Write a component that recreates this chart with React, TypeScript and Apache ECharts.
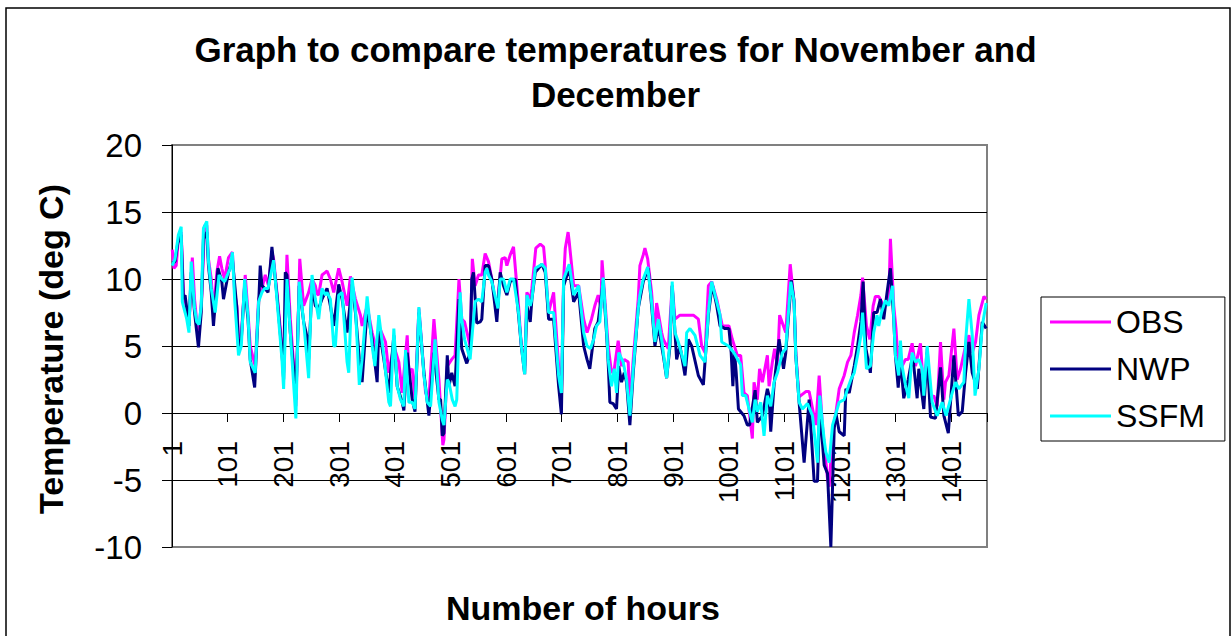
import React, { useEffect, useRef } from "react";
import * as echarts from "echarts";

const TITLE = "Graph to compare temperatures for November and\nDecember";
const X_TITLE = "Number of hours";
const Y_TITLE = "Temperature (deg C)";
const SERIES_NAMES = ["OBS", "NWP", "SSFM"];
const SERIES_COLORS = ["#FF00FF", "#000080", "#00FFFF"];

const HOURS_TOTAL = 1464;
const hourCategories = Array.from({ length: HOURS_TOTAL }, (_, i) => String(i + 1));
const Y_MIN = -10;
const Y_MAX = 20;
const Y_STEP = 5;

// [hour, temperature]
const obsPoints: number[][] = [
  [1, 12.2], [4, 10.8], [8, 11.0], [12, 13.0], [17, 13.5], [21, 9.0], [24, 8.0], [31, 6.5], [37, 11.6], [41, 8.5], [45, 6.8], [49, 6.0], [54, 8.8], [59, 14.0], [63, 14.0], [66, 11.5], [71, 10.0], [75, 7.5], [81, 10.5], [86, 11.7], [90, 10.8], [95, 10.0], [102, 11.6], [109, 12.0], [113, 9.0], [117, 8.0], [120, 5.5], [125, 5.8], [132, 10.3], [137, 7.5], [141, 5.0], [150, 3.5], [156, 8.5], [162, 9.3], [168, 10.3], [174, 9.5], [180, 12.0], [183, 11.5], [189, 9.0], [198, 5.0], [201, 3.0], [207, 11.8], [213, 7.0], [221, 2.5], [223, 0.5], [230, 11.5], [237, 8.0],
  [246, 9.0], [252, 10.0], [258, 9.5], [261, 8.9], [264, 8.8], [270, 10.3], [276, 10.5], [279, 10.6], [285, 10.0], [291, 9.0], [300, 10.8], [306, 9.8], [315, 8.0], [321, 10.2], [330, 8.5], [339, 7.3], [342, 6.5], [351, 8.0], [360, 6.0], [369, 4.5], [372, 6.5], [384, 5.3], [390, 3.0], [399, 5.0], [408, 3.8], [414, 1.5], [423, 5.8], [426, 3.0], [432, 3.3], [437, 1.0], [444, 7.8], [456, 1.5], [462, 1.0], [471, 7.0], [480, 2.5], [487, -2.4], [489, -2.0], [495, 3.5],
  [503, 4.0], [509, 4.3], [516, 10.0], [521, 7.0], [526, 6.8], [536, 5.0], [540, 11.5], [545, 9.5], [551, 10.3], [557, 10.3], [563, 11.9], [569, 11.3], [575, 10.0], [584, 7.5], [593, 11.5], [599, 11.6], [602, 11.0], [608, 11.8], [614, 12.4], [623, 8.0], [628, 5.0], [634, 3.5], [638, 9.0], [644, 8.5], [647, 9.3], [654, 12.3], [662, 12.6], [668, 12.4], [671, 11.0], [677, 7.5], [686, 9.0], [695, 3.5], [700, 1.5], [704, 10.0], [707, 12.3], [712, 13.5], [714, 12.8], [722, 9.5], [731, 9.5], [740, 7.0], [746, 6.0],
  [754, 7.0], [760, 8.0], [766, 8.8], [771, 7.8], [773, 11.4], [778, 8.5], [784, 5.0], [790, 3.0], [795, 3.3], [802, 5.4], [808, 3.5], [813, 4.0], [820, 3.8], [823, 0.5], [829, 4.0], [838, 8.5], [841, 11.0], [847, 11.8], [850, 12.3], [855, 11.5], [862, 9.0], [868, 5.5], [871, 8.2], [880, 6.0], [883, 5.5], [892, 4.8], [899, 9.5], [904, 7.0], [913, 7.3], [919, 7.3], [928, 7.3], [937, 7.3], [946, 7.0], [952, 5.0], [958, 4.5], [964, 9.5], [970, 9.8], [979, 8.5], [989, 6.5],
  [1001, 6.5], [1007, 5.5], [1016, 4.3], [1022, 4.3], [1028, 1.5], [1034, 1.3], [1043, -1.9], [1046, 2.3], [1052, 1.0], [1056, 3.3], [1061, 2.3], [1070, 4.3], [1073, 2.0], [1079, 3.8], [1083, 4.8], [1088, 3.5], [1092, 7.3], [1103, 6.0], [1111, 11.1], [1118, 8.3], [1121, 4.5], [1127, 1.2], [1139, 1.6], [1145, 1.6], [1157, -0.9], [1163, 2.8], [1169, -1.0], [1178, -4.9], [1181, -5.5], [1187, -1.5], [1193, 0.0], [1199, 1.8], [1208, 2.8], [1214, 3.8], [1220, 4.3], [1226, 6.0], [1232, 7.3], [1238, 8.8], [1241, 10.1], [1248, 6.5],
  [1254, 5.5], [1260, 8.0], [1264, 8.7], [1270, 8.7], [1279, 8.0], [1288, 8.3], [1291, 13.0], [1297, 8.0], [1301, 6.3], [1306, 3.0], [1312, 3.5], [1318, 4.0], [1323, 4.0], [1330, 5.2], [1336, 3.5], [1345, 5.2], [1351, 1.5], [1357, 4.8], [1363, 1.0], [1369, 1.3], [1375, 0.5], [1381, 5.3], [1387, 1.0], [1390, 2.3], [1396, 2.8], [1405, 6.3], [1411, 2.5], [1417, 3.3], [1426, 5.0], [1432, 5.8], [1438, 4.5], [1444, 5.3], [1450, 7.3], [1459, 8.7], [1463, 8.5],
];

const nwpPoints: number[][] = [
  [1, 11.2], [6, 11.3], [11, 12.7], [17, 13.3], [21, 8.5], [24, 8.8], [31, 6.5], [35, 10.5], [41, 7.5], [48, 4.9], [53, 7.5], [57, 13.0], [63, 13.5], [66, 11.0], [71, 9.0], [75, 6.5], [83, 10.8], [90, 9.8], [93, 8.5], [102, 10.5], [109, 11.5], [117, 7.8], [120, 5.0], [125, 5.5], [131, 9.5], [137, 7.0], [141, 4.0], [149, 1.9], [156, 8.0], [159, 11.0], [162, 9.5], [167, 9.3], [173, 9.0], [180, 12.4], [183, 11.2], [189, 8.8], [198, 4.5], [201, 2.5], [204, 10.5], [207, 10.3], [213, 6.0], [221, 2.3], [223, 1.0], [229, 9.5], [237, 6.8], [244, 5.5],
  [246, 4.0], [252, 9.5], [258, 8.0], [264, 7.8], [270, 8.5], [279, 9.3], [285, 8.0], [291, 6.5], [300, 9.6], [306, 8.5], [315, 6.0], [324, 9.6], [330, 7.5], [337, 4.0], [342, 2.3], [351, 7.8], [360, 5.5], [369, 2.3], [372, 6.5], [381, 4.0], [390, 1.5], [399, 5.8], [405, 2.0], [414, 0.8], [417, 0.2], [423, 4.5], [432, 1.0], [437, 0.1], [444, 7.5], [453, 3.0], [462, -0.2], [471, 4.5], [480, 1.0], [483, 1.0], [486, -1.7], [489, -1.5], [495, 4.3], [498, 2.0],
  [503, 3.0], [509, 2.0], [516, 8.5], [521, 4.8], [530, 3.7], [536, 4.5], [539, 10.0], [542, 10.5], [548, 6.7], [554, 6.8], [557, 7.0], [563, 11.0], [569, 11.0], [575, 10.0], [584, 6.8], [590, 10.5], [596, 9.5], [602, 8.8], [608, 9.8], [617, 10.0], [623, 7.3], [628, 5.0], [634, 2.9], [638, 8.0], [644, 6.8], [647, 8.5], [653, 10.5], [665, 11.1], [671, 10.5], [677, 7.0], [686, 7.0], [695, 2.0], [700, -0.1], [704, 9.5], [714, 10.8], [722, 8.3], [731, 9.0], [740, 5.0], [746, 4.0],
  [751, 3.3], [760, 6.3], [766, 6.8], [775, 9.8], [781, 6.0], [784, 3.8], [787, 0.8], [793, 0.7], [799, 0.3], [803, 3.5], [808, 2.3], [813, 3.0], [817, 2.3], [823, -0.9], [829, 3.0], [838, 7.8], [847, 9.8], [856, 10.8], [862, 8.0], [868, 5.0], [874, 6.5], [883, 4.3], [889, 2.6], [895, 5.0], [899, 9.5], [904, 6.0], [907, 4.0], [913, 5.0], [922, 2.8], [928, 5.5], [934, 5.0], [946, 2.8], [955, 2.1], [964, 7.3], [971, 9.6], [979, 8.0], [985, 6.5], [994, 6.3],
  [1001, 6.3], [1005, 4.5], [1008, 2.0], [1011, 4.5], [1014, 3.0], [1018, 0.3], [1028, -0.2], [1034, -0.9], [1038, -0.9], [1048, 1.7], [1052, -0.7], [1061, -0.2], [1070, 1.8], [1073, 1.3], [1076, -1.4], [1082, 2.1], [1091, 5.5], [1099, 3.3], [1103, 4.5], [1113, 9.9], [1118, 8.3], [1121, 4.3], [1127, 0.8], [1136, -3.7], [1145, 1.0], [1154, -5.1], [1160, -5.1], [1164, 0.5], [1172, -3.9], [1178, -4.5], [1184, -10.0], [1190, -1.2], [1193, 0.0], [1199, -1.4], [1208, -1.7], [1211, 1.8], [1217, 1.5], [1226, 3.5], [1232, 5.0], [1238, 6.8], [1242, 9.8], [1247, 4.8],
  [1255, 3.0], [1261, 7.5], [1267, 7.5], [1273, 8.5], [1279, 7.0], [1285, 9.0], [1291, 10.8], [1297, 7.0], [1300, 4.3], [1305, 1.9], [1309, 4.0], [1315, 1.1], [1323, 2.5], [1331, 4.3], [1339, 1.1], [1342, 3.3], [1351, 0.3], [1357, 4.5], [1363, -0.3], [1372, -0.4], [1381, 3.4], [1387, -0.2], [1395, -1.5], [1405, 4.3], [1413, -0.2], [1420, 0.1], [1426, 3.0], [1432, 5.3], [1438, 3.0], [1447, 1.8], [1456, 6.8], [1463, 6.3],
];

const ssfmPoints: number[][] = [
  [1, 11.0], [6, 11.5], [12, 13.3], [17, 13.9], [19, 8.3], [24, 7.5], [27, 7.0], [31, 6.0], [35, 11.3], [41, 7.8], [45, 6.8], [49, 6.6], [53, 8.0], [57, 13.8], [63, 14.3], [66, 11.3], [71, 9.3], [78, 7.5], [85, 10.3], [90, 10.0], [95, 9.8], [105, 10.8], [109, 12.0], [113, 8.5], [120, 4.3], [125, 5.0], [131, 10.0], [137, 7.3], [141, 3.8], [150, 3.0], [156, 8.3], [162, 9.0], [167, 9.3], [173, 9.3], [183, 11.4], [189, 8.5], [198, 4.0], [201, 1.8], [207, 10.0], [213, 6.0], [223, -0.4], [229, 9.8], [237, 6.8], [246, 2.6],
  [252, 10.3], [258, 8.5], [264, 7.0], [270, 9.3], [276, 8.8], [279, 9.0], [285, 8.5], [291, 5.0], [294, 5.0], [300, 8.8], [306, 9.0], [315, 3.8], [318, 3.0], [324, 10.1], [330, 7.8], [337, 2.1], [342, 4.0], [351, 8.7], [360, 5.0], [365, 3.5], [372, 7.3], [381, 4.3], [390, 0.8], [393, 0.5], [399, 6.3], [405, 2.0], [411, 1.0], [417, 0.5], [420, 4.7], [426, 0.8], [432, 0.8], [437, 0.3], [444, 7.9], [453, 2.8], [459, 0.8], [465, 0.5], [473, 5.5], [480, 0.8], [486, -0.5], [489, -0.9], [495, 2.5], [498, 2.3], [504, 1.0],
  [509, 0.5], [512, 1.0], [518, 9.0], [521, 7.0], [526, 5.5], [536, 4.0], [540, 6.0], [545, 8.3], [551, 8.5], [557, 8.3], [563, 10.5], [566, 10.8], [569, 10.3], [575, 9.8], [586, 7.8], [590, 10.0], [596, 10.0], [602, 9.0], [608, 10.0], [614, 10.0], [623, 7.5], [628, 5.0], [634, 2.9], [638, 8.8], [644, 8.0], [647, 8.5], [653, 10.8], [665, 11.1], [671, 10.8], [677, 7.5], [686, 7.5], [695, 2.8], [700, 1.5], [704, 10.0], [714, 11.1], [722, 8.8], [731, 9.5], [740, 6.0], [746, 5.0], [752, 4.8], [758, 5.5],
  [763, 6.5], [769, 6.8], [775, 10.1], [781, 6.3], [784, 4.0], [790, 2.0], [795, 3.3], [799, 1.5], [803, 4.5], [811, 3.8], [817, 2.5], [823, -0.2], [829, 3.3], [838, 7.8], [841, 8.8], [847, 10.0], [855, 10.9], [862, 8.3], [868, 5.3], [874, 7.0], [880, 5.5], [889, 2.6], [895, 5.3], [899, 9.8], [904, 6.0], [910, 5.3], [922, 3.5], [925, 6.0], [931, 6.3], [940, 5.8], [949, 4.3], [958, 3.8], [964, 7.5], [970, 9.8], [979, 8.3], [985, 7.3], [988, 5.3], [1000, 5.0],
  [1010, 4.5], [1022, 3.6], [1025, 1.3], [1031, 1.3], [1037, 0.3], [1043, -0.7], [1048, 1.0], [1052, 0.1], [1058, 0.8], [1064, -1.7], [1070, 1.3], [1076, 0.5], [1082, 2.3], [1088, 3.0], [1097, 4.5], [1103, 4.8], [1112, 9.8], [1118, 8.3], [1121, 4.3], [1127, 0.8], [1133, 0.3], [1142, 0.7], [1151, -0.2], [1160, -3.7], [1164, 1.3], [1172, -2.0], [1175, -2.9], [1181, -3.7], [1187, -0.9], [1192, -0.2], [1199, 0.8], [1208, 1.0], [1214, 1.8], [1220, 2.5], [1226, 3.0], [1232, 4.3], [1238, 5.8], [1241, 7.5], [1248, 3.3],
  [1255, 3.5], [1261, 6.0], [1267, 7.3], [1270, 6.5], [1275, 7.5], [1282, 8.4], [1288, 8.0], [1295, 9.5], [1297, 7.0], [1300, 4.3], [1306, 2.8], [1309, 5.4], [1312, 3.5], [1318, 2.1], [1324, 1.1], [1330, 4.5], [1336, 3.8], [1342, 4.0], [1348, 3.3], [1351, 1.3], [1357, 5.0], [1366, 0.8], [1375, -0.2], [1384, 0.8], [1391, -0.2], [1402, 1.5], [1408, 2.3], [1414, 1.8], [1423, 2.3], [1426, 5.3], [1432, 8.5], [1438, 5.8], [1443, 1.3], [1450, 3.3], [1456, 6.5], [1463, 8.2],
];

const FONT = '"Liberation Sans", Arial, Helvetica, sans-serif';

const GRID_TOP = 145;
const GRID_HEIGHT = 402;
// the x axis crosses the value axis at 0
const X_AXIS_OFFSET = -Math.round((GRID_HEIGHT * (0 - Y_MIN)) / (Y_MAX - Y_MIN));

function toCategoryData(points: number[][]) {
  return points.map(([h, v]) => [Math.max(0, Math.min(HOURS_TOTAL - 1, h - 1)), v]);
}

export default function App() {
  const ref = useRef<HTMLDivElement>(null);

  useEffect(() => {
    if (!ref.current) return;
    const chart = echarts.init(ref.current, undefined, { renderer: "svg" });
    const allPoints = [obsPoints, nwpPoints, ssfmPoints];

    chart.setOption({
      animation: false,
      backgroundColor: "#ffffff",
      title: {
        text: TITLE,
        left: "center",
        top: 22,
        textStyle: {
          fontFamily: FONT,
          fontSize: 35,
          fontWeight: "bold",
          color: "#000",
          lineHeight: 45,
        },
      },
      legend: {
        data: SERIES_NAMES,
        orient: "vertical",
        left: 1041,
        top: 297,
        padding: [9, 20, 9, 9],
        itemGap: 15,
        icon: "rect",
        itemWidth: 61,
        itemHeight: 3,
        borderColor: "#000",
        borderWidth: 1,
        textStyle: { fontFamily: FONT, fontSize: 32, color: "#000", lineHeight: 32 },
      },
      grid: {
        left: 172,
        top: GRID_TOP,
        width: 815,
        height: GRID_HEIGHT,
        show: true,
        borderColor: "#808080",
        borderWidth: 2,
        containLabel: false,
        outerBoundsMode: "none",
      },
      xAxis: {
        type: "category",
        data: hourCategories,
        boundaryGap: true,
        offset: X_AXIS_OFFSET,
        axisLine: { onZero: false, lineStyle: { color: "#000", width: 1 } },
        axisTick: { show: true, interval: 99, length: 9, lineStyle: { color: "#000" } },
        axisLabel: {
          interval: 99,
          rotate: 90,
          margin: 28,
          fontFamily: FONT,
          fontSize: 28,
          color: "#000",
        },
        splitLine: { show: false },
      },
      yAxis: {
        type: "value",
        min: Y_MIN,
        max: Y_MAX,
        interval: Y_STEP,
        axisLine: { show: true, lineStyle: { color: "#000", width: 1 } },
        axisTick: { show: true, length: 10, lineStyle: { color: "#000" } },
        axisLabel: { margin: 30, fontFamily: FONT, fontSize: 33, color: "#000" },
        splitLine: {
          show: true,
          showMinLine: false,
          showMaxLine: false,
          lineStyle: { color: "#000", width: 1 },
        },
      },
      graphic: [
        {
          type: "rect",
          silent: true,
          shape: { x: 6, y: 8, width: 1224, height: 700 },
          style: { fill: "none", stroke: "#000", lineWidth: 1.5 },
        },
        {
          type: "text",
          silent: true,
          x: 583,
          y: 608,
          style: {
            text: X_TITLE,
            textAlign: "center",
            textVerticalAlign: "middle",
            font: `bold 34px ${FONT}`,
            fill: "#000",
          },
        },
        {
          type: "text",
          silent: true,
          x: 51,
          y: 349,
          rotation: Math.PI / 2,
          style: {
            text: Y_TITLE,
            textAlign: "center",
            textVerticalAlign: "middle",
            font: `bold 34px ${FONT}`,
            fill: "#000",
          },
        },
      ],
      series: SERIES_NAMES.map((name, i) => ({
        name,
        type: "line",
        data: toCategoryData(allPoints[i]),
        symbol: "none",
        showSymbol: false,
        color: SERIES_COLORS[i],
        lineStyle: { color: SERIES_COLORS[i], width: 3 },
        z: 2 + i,
      })),
    });

    return () => {
      chart.dispose();
    };
  }, []);

  return (
    <div
      ref={ref}
      style={{ position: "absolute", left: 0, top: 0, width: 1231, height: 636 }}
    />
  );
}
